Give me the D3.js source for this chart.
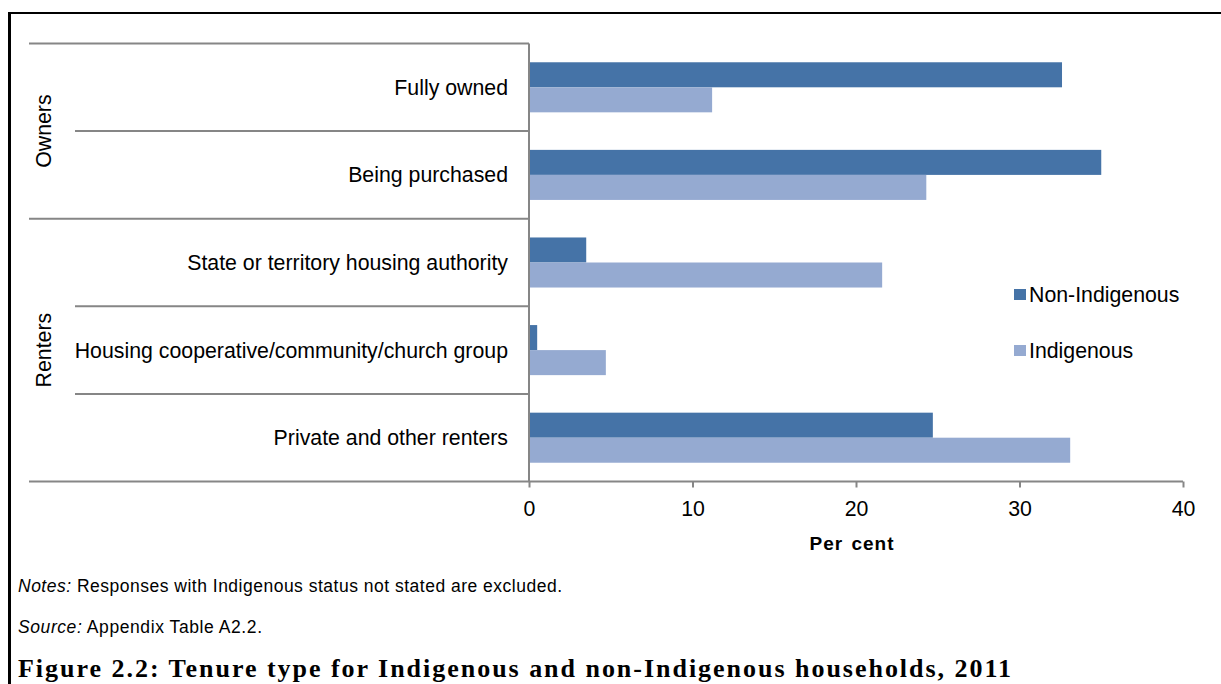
<!DOCTYPE html>
<html>
<head>
<meta charset="utf-8">
<script src="https://cdn.jsdelivr.net/npm/d3@7"></script>
<style>
  body { margin: 0; background: #fff; }
  svg { display: block; font-family: "Liberation Sans", Arial, sans-serif; }
</style>
</head>
<body>
<svg id="chart" width="1221" height="684"></svg>
<script>
// Tenure categories, top to bottom
const categories = [
  "Fully owned",
  "Being purchased",
  "State or territory housing authority",
  "Housing cooperative/community/church group",
  "Private and other renters"
];
// Outer grouping of the categories
const groupNames = ["Owners", "Renters"];
const groupSizes = [2, 3];

// Series (per cent of households)
const seriesNames = ["Non-Indigenous", "Indigenous"];
const nonIndigenous = [32.6, 35.0, 3.5, 0.5, 24.7];
const indigenous = [11.2, 24.3, 21.6, 4.7, 33.1];
const seriesValues = [nonIndigenous, indigenous];

const xTicks = [0, 10, 20, 30, 40];
const colors = ["#4573a7", "#95aad1"];

const svg = d3.select("#chart");
const axisGrey = "#868686";
const labelSize = 21.3;

// Scales
const x = d3.scaleLinear().domain([0, 40]).range([529, 1183]);
const y0 = d3.scaleBand().domain(categories).range([43.5, 481.5]).padding(0);
const y1 = d3.scaleBand().domain(seriesNames).range([0, y0.bandwidth()])
  .paddingInner(0).paddingOuter(0.75);
const color = d3.scaleOrdinal().domain(seriesNames).range(colors);

// Frame
svg.append("line").attr("x1", 9.5).attr("x2", 9.5).attr("y1", 12).attr("y2", 684)
  .attr("stroke", "#000").attr("stroke-width", 3);
svg.append("line").attr("x1", 8).attr("x2", 1221).attr("y1", 13).attr("y2", 13)
  .attr("stroke", "#000").attr("stroke-width", 2);

// Bars
const rows = categories.map((c, i) => ({ cat: c, vals: seriesNames.map((s, j) => ({ s, v: seriesValues[j][i] })) }));
svg.append("g").selectAll("g").data(rows).join("g")
  .attr("transform", d => `translate(0,${y0(d.cat)})`)
  .selectAll("rect").data(d => d.vals).join("rect")
  .attr("x", x(0))
  .attr("y", d => y1(d.s))
  .attr("width", d => x(d.v) - x(0))
  .attr("height", y1.bandwidth())
  .attr("fill", d => color(d.s));

// Category axis: boundaries between categories, longer at group edges
const groupEdges = [0];
groupSizes.reduce((acc, n) => { groupEdges.push(acc + n); return acc + n; }, 0);
const boundaries = d3.range(categories.length + 1).map(i => ({
  y: i < categories.length ? y0(categories[i]) : y0.range()[1],
  isGroupEdge: groupEdges.includes(i)
}));
svg.append("g").selectAll("line").data(boundaries).join("line")
  .attr("x1", d => d.isGroupEdge ? 29 : 75)
  .attr("x2", x(0))
  .attr("y1", d => d.y).attr("y2", d => d.y)
  .attr("stroke", axisGrey).attr("stroke-width", 2);
svg.append("line").attr("x1", x(0)).attr("x2", x(0))
  .attr("y1", y0.range()[0]).attr("y2", y0.range()[1])
  .attr("stroke", axisGrey).attr("stroke-width", 2);

// Category labels
svg.append("g").selectAll("text").data(categories).join("text")
  .attr("x", 508)
  .attr("y", d => y0(d) + y0.bandwidth() / 2)
  .attr("dy", "0.35em")
  .attr("text-anchor", "end")
  .attr("font-size", labelSize)
  .attr("fill", "#000")
  .text(d => d);

// Group labels (rotated)
let start = 0;
groupNames.forEach((g, i) => {
  const top = y0(categories[start]);
  const endIdx = start + groupSizes[i];
  const bottom = endIdx < categories.length ? y0(categories[endIdx]) : y0.range()[1];
  const cy = (top + bottom) / 2;
  svg.append("text")
    .attr("transform", `translate(44,${cy}) rotate(-90)`)
    .attr("dy", "0.35em")
    .attr("text-anchor", "middle")
    .attr("font-size", labelSize)
    .attr("fill", "#000")
    .text(g);
  start = endIdx;
});

// Value axis
const xAxis = svg.append("g")
  .attr("transform", `translate(0,${y0.range()[1]})`)
  .call(d3.axisBottom(x).tickValues(xTicks).tickSize(6).tickSizeOuter(0).tickPadding(13));
xAxis.select(".domain").remove();
xAxis.selectAll(".tick line").attr("stroke", axisGrey).attr("stroke-width", 2);
xAxis.selectAll(".tick text").attr("font-size", labelSize).attr("fill", "#000")
  .attr("font-family", "Liberation Sans, Arial, sans-serif");
svg.append("line").attr("x1", x(0)).attr("x2", x(40))
  .attr("y1", y0.range()[1]).attr("y2", y0.range()[1])
  .attr("stroke", axisGrey).attr("stroke-width", 2);

// Axis title
svg.append("text")
  .attr("x", (x(0) + x(40)) / 2 - 4)
  .attr("y", 550)
  .attr("text-anchor", "middle")
  .attr("font-size", 19)
  .attr("font-weight", "bold")
  .attr("letter-spacing", 1)
  .attr("word-spacing", 2)
  .attr("fill", "#000")
  .text("Per cent");

// Legend
const legend = svg.append("g").selectAll("g").data(seriesNames).join("g")
  .attr("transform", (d, i) => `translate(1014,${289 + i * 56})`);
legend.append("rect").attr("width", 12).attr("height", 11).attr("fill", d => color(d));
legend.append("text").attr("x", 15).attr("y", 6).attr("dy", "0.35em")
  .attr("font-size", labelSize).attr("fill", "#000").text(d => d);

// Notes and source
const notes = svg.append("text").attr("x", 18).attr("y", 592).attr("font-size", 17.5).attr("fill", "#000")
  .attr("textLength", 544).attr("lengthAdjust", "spacing");
notes.append("tspan").attr("font-style", "italic").text("Notes:");
notes.append("tspan").text(" Responses with Indigenous status not stated are excluded.");

const source = svg.append("text").attr("x", 18).attr("y", 633).attr("font-size", 17.5).attr("fill", "#000")
  .attr("textLength", 244).attr("lengthAdjust", "spacing");
source.append("tspan").attr("font-style", "italic").text("Source:");
source.append("tspan").text(" Appendix Table A2.2.");

// Figure caption
svg.append("text")
  .attr("x", 18).attr("y", 677)
  .attr("font-family", "'Liberation Serif', 'Times New Roman', serif")
  .attr("font-weight", "bold")
  .attr("font-size", 26)
  .attr("fill", "#000")
  .attr("textLength", 993).attr("lengthAdjust", "spacing")
  .text("Figure 2.2: Tenure type for Indigenous and non-Indigenous households, 2011");
</script>
</body>
</html>
